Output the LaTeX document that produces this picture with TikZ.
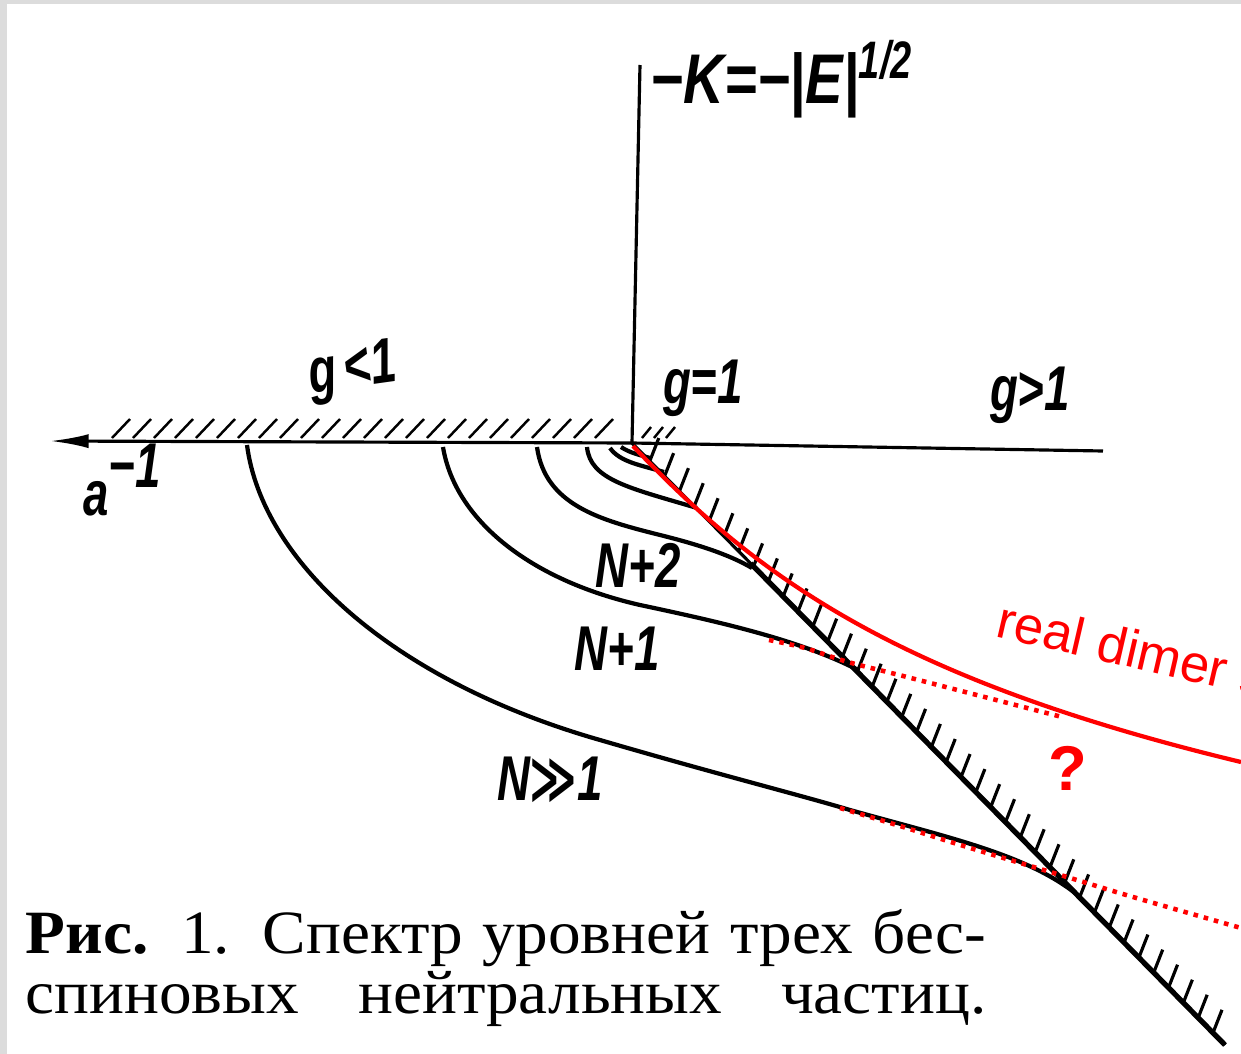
\documentclass[tikz,border=0pt]{standalone}
\usepackage{fontspec}
\setmainfont{Liberation Serif}
\setsansfont{Liberation Sans}
\newfontfamily\symfont{DejaVu Sans}
\usepackage{tikz}
\usetikzlibrary{arrows.meta, calc}
\definecolor{pagegrey}{RGB}{220,220,220}
\definecolor{dimerred}{RGB}{255,0,0}
\newcommand{\lblslim}[1]{\scalebox{0.72}[1]{#1}}

\begin{document}
\begin{tikzpicture}[x=0.01cm, y=-0.01cm,
  axis/.style={line width=0.9pt},
  level/.style={line width=1.2pt, line join=round},
  hatch/.style={line width=0.7pt},
  lbl/.style={font=\sffamily\bfseries\itshape\fontsize{18}{20}\selectfont, inner sep=0pt},
  dimer/.style={dimerred, line width=1.2pt},
  dimerdots/.style={dimerred, line width=1.3pt, dash pattern=on 1.3pt off 1.7pt}
]
  \useasboundingbox (0,0) rectangle (1241,1054);
  \fill[pagegrey] (0,0) rectangle (1241,1054);
  \fill[white] (7,4) rectangle (1241,1054);

  \coordinate (O) at (632,443);
  \coordinate (atip) at (50,441);
  \coordinate (gend) at (1103,451);
  \coordinate (ktop) at (640,65);
  \coordinate (D) at (1225,1045);

  % axes
  \draw[axis, -{Latex[length=11pt, width=4pt]}] (O) -- (atip);
  \draw[axis] (O) -- (gend);
  \draw[axis] (O) -- (ktop);
  \draw[axis] (O) -- (D);
  \draw[line width=1.5pt] ($(O)!0.2!(D)$) -- (D);

  % hatching
  \foreach \x in {112,133,...,615}
    \draw[hatch] (\x,438) -- ++(18,-19);
  \foreach \x in {642,654,666}
    \draw[hatch] (\x,438) -- ++(9,-11);
  \foreach \t in {0.03,0.055,...,0.99}
    \draw[hatch, line width=0.9pt] ($(O)!\t!(D)$) -- ++(9,-23);

  % levels
  \draw[level] (247,445) .. controls (262,560) and (390,680) .. (600,740)
    .. controls (720,775) and (800,795) .. (850,810)
    .. controls (950,838) and (1030,855) .. (1080,897);
  \draw[level] (443,447) .. controls (455,520) and (530,580) .. (640,605)
    .. controls (720,622) and (800,640) .. (858,670);
  \draw[level] (537,447) .. controls (545,505) and (600,520) .. (660,535)
    .. controls (700,545) and (730,555) .. (752,568);
  \draw[level] (587,447) .. controls (590,480) and (630,488) .. (697,508);
  \draw[level] (610,448) .. controls (620,462) and (640,465) .. (664,472);
  \draw[level] (621,447) .. controls (630,453) and (640,455) .. (650,458);

  % dimer
  \draw[dimer] (633,446) .. controls (760,580) and (900,680) .. (1241,762);
  \draw[dimerdots] plot[smooth] coordinates {(769,640) (805,648) (848,662) (907,677) (1062,717)};
  \draw[dimerdots] plot[smooth] coordinates {(840,808) (900,826) (967,847) (1067,877) (1133,897) (1241,928)};

  % labels
  \node[lbl, anchor=base west, font=\sffamily\bfseries\itshape\fontsize{20}{22}\selectfont] (kax) at (650,103)
    {\scalebox{0.8}[1]{−K=−|E|}\raisebox{7pt}{\fontsize{15}{16}\selectfont\lblslim{1/2}}};
  \node[lbl, rotate=8] (glt) at (353,372) {\lblslim{g\,<1}};
  \node[lbl] (geq) at (703,388) {\lblslim{g=1}};
  \node[lbl] (ggt) at (1030,395) {\lblslim{g>1}};
  \node[lbl] (ainv) at (122,480) {\lblslim{a}\raisebox{8pt}{\lblslim{−1}}};
  \node[lbl] (n2) at (638,565) {\lblslim{N+2}};
  \node[lbl] (n1) at (617,649) {\lblslim{N+1}};
  \node[lbl] (nbig) at (550,780) {\lblslim{N{\symfont\bfseries ≫}1}};

  \node[anchor=base west, rotate=-13, inner sep=0pt, text=dimerred,
        font=\sffamily\fontsize{15}{18}\selectfont] (dimtxt) at (994,636) {real dimer s};
  \node[text=dimerred, font=\sffamily\bfseries\fontsize{18}{20}\selectfont] (qm) at (1068,768) {?};

  % caption
  \node[anchor=base west, inner sep=0pt, font=\fontsize{17.5}{20}\selectfont] (cap1) at (25,953)
    {\scalebox{1.06}[1]{\makebox[9.06cm][s]{\textbf{Рис.} 1. Спектр уровней трех бес-}}};
  \node[anchor=base west, inner sep=0pt, font=\fontsize{17.5}{20}\selectfont] (cap2) at (25,1013)
    {\scalebox{1.06}[1]{\makebox[9.06cm][s]{спиновых нейтральных частиц.}}};
\end{tikzpicture}
\end{document}
